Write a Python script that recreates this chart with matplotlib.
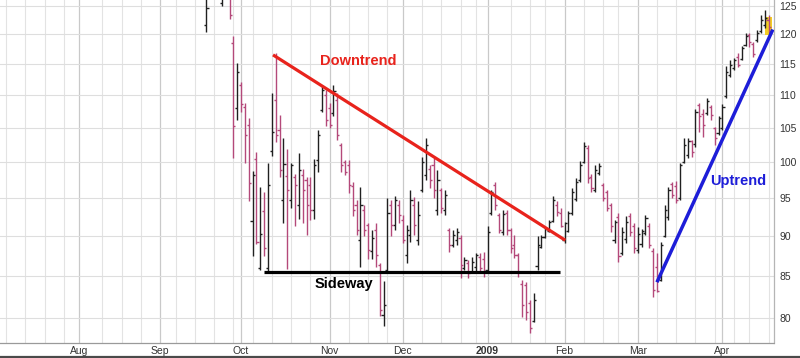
import matplotlib
matplotlib.use("Agg")
import matplotlib.pyplot as plt
from matplotlib.lines import Line2D
from matplotlib.patches import Rectangle
from matplotlib.ticker import NullLocator, NullFormatter
import numpy as np
import pandas as pd

plt.rcParams['font.family'] = ['Liberation Sans', 'DejaVu Sans']

# trading calendar (NYSE holidays in the window)
holidays = ['2008-07-04', '2008-09-01', '2008-11-27', '2008-12-25',
            '2009-01-01', '2009-01-19', '2009-02-16', '2009-04-10']
first_bar = '2008-09-18'
month_starts = ['2008-08', '2008-09', '2008-10', '2008-11', '2008-12',
                '2009-01', '2009-02', '2009-03', '2009-04']
month_labels = ['Aug', 'Sep', 'Oct', 'Nov', 'Dec', '2009', 'Feb', 'Mar', 'Apr']
price_ticks = [80, 85, 90, 95, 100, 105, 110, 115, 120, 125]

# daily OHLC, 18 Sep 2008 .. 20 Apr 2009
opens = [121.6, 127.5, 130.0, 128.0, 125.5, 128.5, 127.0, 118.5, 108.0,
         111.6, 108.2, 105.4, 91.9, 100.4, 85.9, 93.2, 85.9, 101.6, 109.2,
         104.7, 94.7, 98.0, 94.7, 97.8, 94.0, 98.2, 97.5, 96.8, 93.3, 100.3,
         107.7, 110.0,
         108.0, 107.2, 109.2, 102.4, 100.0, 99.5, 96.6, 94.0, 89.4, 93.4,
         91.4, 88.0, 90.7, 86.3, 80.4, 85.7, 94.0, 91.4, 94.0,
         92.0, 87.5, 90.1, 94.0, 89.4, 96.1, 98.1, 99.0, 99.5, 93.4, 96.1,
         93.4, 90.7, 88.8, 89.4, 89.7, 85.9, 86.5, 85.5, 86.0, 87.3, 87.0,
         85.7, 93.0, 96.7, 92.7, 90.4, 93.0, 90.7, 88.8, 87.5, 84.0, 83.9,
         81.7, 79.7, 86.2, 88.6, 89.8, 90.6, 91.9, 94.0, 93.0,
         89.4, 90.6, 92.9, 94.8, 97.4, 100.0, 102.0, 97.8, 96.1, 98.4, 96.8,
         95.8, 94.0, 89.4, 92.4, 87.8, 89.5, 92.6, 91.3,
         88.2, 88.9, 90.3, 91.3, 88.0, 86.0, 84.5, 90.0, 92.4, 96.9, 96.6,
         94.9, 100.0, 101.0, 103.0, 102.6, 108.4, 107.0, 107.2, 108.2, 104.9,
         104.2,
         105.0, 109.8, 113.2, 114.3, 116.2, 115.9, 118.2, 119.9, 118.4, 119.0,
         120.6, 121.6, 122.5]
highs = [130.0, 131.0, 132.0, 130.5, 129.5, 130.0, 128.5, 119.6, 115.1,
         112.1, 108.8, 106.5, 98.7, 101.4, 96.4, 95.8, 99.9, 110.3, 116.8,
         106.9, 103.4, 101.9, 99.8, 98.3, 101.2, 99.0, 97.9, 97.9, 100.4, 104.7,
         111.6, 110.8,
         108.8, 111.6, 110.3, 102.7, 100.3, 100.3, 97.1, 94.7, 96.4, 94.0,
         91.6, 90.7, 91.6, 86.5, 84.3, 94.9, 94.7, 95.2, 94.7,
         92.7, 91.4, 96.1, 95.1, 94.5, 100.7, 103.4, 99.5, 100.5, 98.8, 96.3,
         96.1, 91.0, 90.7, 91.0, 90.1, 87.3, 86.9, 87.3, 87.8, 87.8, 87.9,
         91.2, 96.1, 97.2, 93.0, 93.4, 93.4, 91.0, 90.1, 87.8, 84.5, 84.2,
         82.1, 82.9, 89.9, 90.1, 91.1, 92.0, 95.2, 94.5, 93.6,
         91.7, 93.2, 96.3, 97.7, 100.1, 102.9, 102.4, 98.3, 99.5, 99.8, 97.0,
         96.1, 94.3, 92.0, 93.0, 91.1, 92.5, 93.0, 91.6,
         91.1, 90.9, 92.7, 91.6, 88.4, 87.8, 89.2, 94.0, 96.5, 97.2, 97.3,
         99.8, 103.4, 103.5, 103.2, 107.9, 108.8, 107.9, 109.5, 108.4, 105.1,
         106.7,
         108.6, 114.6, 115.7, 116.0, 116.8, 118.0, 120.2, 120.2, 118.7, 120.7,
         123.3, 124.2, 123.3]
lows = [120.3, 126.8, 127.5, 126.4, 124.9, 126.3, 122.7, 100.5, 106.2,
        107.4, 99.8, 94.5, 87.4, 88.9, 85.7, 87.4, 85.5, 100.9, 102.9,
        97.9, 91.6, 85.8, 93.6, 91.2, 92.2, 91.6, 90.1, 92.0, 92.2, 98.6,
        107.4, 105.2,
        105.0, 106.7, 103.2, 98.6, 98.1, 95.7, 92.6, 90.1, 86.1, 89.9,
        87.1, 87.1, 86.1, 80.2, 79.1, 85.3, 89.9, 90.7, 91.6,
        89.0, 86.5, 89.2, 90.1, 88.8, 95.8, 97.4, 96.3, 95.0, 92.7, 93.0,
        92.7, 87.9, 88.6, 88.8, 84.7, 85.7, 84.7, 85.3, 85.5, 85.3, 84.8,
        85.3, 92.7, 93.4, 90.3, 90.1, 90.1, 87.8, 87.2, 84.8, 80.1, 79.8,
        78.3, 79.5, 85.7, 88.4, 89.7, 90.5, 91.8, 92.5, 91.1,
        89.1, 90.4, 92.7, 94.5, 97.2, 99.8, 97.0, 95.8, 95.8, 98.1, 94.5,
        93.2, 90.5, 89.1, 86.7, 87.5, 89.1, 89.9, 87.8,
        87.8, 88.6, 90.1, 88.4, 82.5, 83.0, 84.3, 89.8, 92.0, 95.0, 94.3,
        94.7, 99.8, 100.5, 100.7, 102.2, 104.4, 103.6, 106.9, 106.2, 102.4,
        103.9,
        104.7, 109.5, 112.8, 114.0, 114.5, 115.7, 118.0, 117.9, 116.2, 118.7,
        120.2, 121.0, 120.2]
closes = [124.6, 130.2, 128.4, 127.0, 128.5, 127.2, 123.3, 105.3, 113.7,
          108.6, 103.9, 97.0, 98.1, 89.2, 90.2, 88.4, 96.7, 104.4, 103.9,
          98.8, 99.7, 96.1, 99.5, 96.7, 98.9, 96.1, 94.0, 93.3, 99.5, 103.9,
          110.8, 106.2,
          105.4, 110.6, 103.9, 99.5, 98.6, 96.7, 93.3, 90.7, 94.0, 90.7,
          88.2, 89.7, 87.5, 80.9, 81.5, 93.0, 91.4, 94.7, 92.7,
          89.4, 90.7, 94.7, 91.4, 92.7, 100.0, 102.4, 97.4, 96.1, 97.4, 93.6,
          95.4, 88.8, 90.1, 90.4, 86.3, 86.9, 85.3, 86.7, 87.5, 85.9, 85.5,
          90.5, 95.8, 94.0, 90.7, 92.8, 90.7, 88.4, 87.5, 85.5, 81.5, 80.7,
          78.9, 82.1, 88.8, 89.8, 90.8, 91.7, 94.7, 93.1, 91.3,
          91.6, 92.9, 95.8, 97.2, 99.5, 102.3, 97.7, 96.3, 98.8, 99.4, 95.0,
          93.6, 91.3, 91.7, 87.4, 90.5, 91.7, 90.4, 88.4,
          90.2, 90.6, 92.3, 88.8, 83.3, 83.1, 88.8, 93.4, 96.1, 95.4, 94.7,
          99.5, 102.4, 103.0, 101.4, 107.4, 106.7, 105.4, 109.1, 106.9, 103.4,
          106.4,
          108.2, 113.7, 114.8, 115.7, 114.8, 117.7, 119.7, 118.7, 116.7, 120.2,
          122.5, 122.8, 121.2]

# ---- x positions: trading-day index, 0 = 1 Oct 2008
days = pd.bdate_range('2008-06-02', '2009-04-30')
days = days[~days.isin(pd.to_datetime(holidays))]
zero = days.get_loc(pd.Timestamp('2008-10-01'))
day_pos = np.arange(len(days)) - zero

start = days.get_loc(pd.Timestamp(first_bar))
x = day_pos[start:start + len(closes)]

month_pos = []
for m in month_starts:
    month_pos.append(day_pos[np.argmax(days.to_period('M') == pd.Period(m))])
monday = days - pd.to_timedelta(days.weekday, unit='D')
_, first_in_week = np.unique(monday, return_index=True)
week_pos = [p for p in day_pos[first_in_week]
            if min(abs(p - mp) for mp in month_pos) > 1]

opens = np.array(opens)
highs = np.array(highs)
lows = np.array(lows)
closes = np.array(closes)
prev = np.concatenate([[closes[0] - 1], closes[:-1]])
colors = np.where(closes >= prev, '#202020', '#b4497a')

fig = plt.figure(figsize=(8, 3.58), dpi=100)
ax = fig.add_axes([0, 15 / 358, 774 / 800, 343 / 358])

ax.set_yscale('log')
ax.set_ylim(77.2, 126.0)
ax.set_xlim(-62.6, 138.4)

# grid
for p in week_pos:
    ax.axvline(p, color='#e3e3e3', lw=0.8, zorder=0)
for p in month_pos:
    ax.axvline(p, color='#c9c9c9', lw=0.9, zorder=0)
for v in price_ticks:
    ax.axhline(v, color='#dedede', lw=0.8, zorder=0)

# last bar highlight
ax.add_patch(Rectangle((x[-1] - 0.85, 119.8), 1.7, 3.2,
                       facecolor='#f3cd25', edgecolor='none', zorder=2))

# OHLC bars
ax.vlines(x, lows, highs, colors=colors, lw=1.0, zorder=3)
ax.hlines(opens, x - 0.55, x, colors=colors, lw=1.0, zorder=3)
ax.hlines(closes, x, x + 0.55, colors=colors, lw=1.0, zorder=3)

# trend lines
ax.plot([8.3, 84.2], [116.5, 89.4], color='#e8231c', lw=2.3,
        solid_capstyle='butt', zorder=4)
ax.plot([6.0, 82.9], [85.5, 85.5], color='#000000', lw=2.3,
        solid_capstyle='butt', zorder=4)
ax.plot([108.0, 138.1], [84.2, 120.8], color='#1d1dd8', lw=2.5,
        solid_capstyle='butt', zorder=4)

ax.text(30.5, 115.5, 'Downtrend', color='#e8231c', fontsize=10.5,
        fontweight='bold', ha='center', va='center', zorder=5)
ax.text(26.6, 84.0, 'Sideway', color='#000000', fontsize=10.5,
        fontweight='bold', ha='center', va='center', zorder=5)
ax.text(129.2, 97.3, 'Uptrend', color='#1d1dd8', fontsize=10.5,
        fontweight='bold', ha='center', va='center', zorder=5)

# axes styling
ax.yaxis.tick_right()
ax.set_yticks(price_ticks)
ax.set_yticklabels([str(v) for v in price_ticks])
ax.yaxis.set_minor_locator(NullLocator())
ax.yaxis.set_minor_formatter(NullFormatter())
ax.set_xticks(month_pos)
ax.set_xticklabels(month_labels)
ax.get_xticklabels()[5].set_fontweight('bold')
ax.tick_params(axis='y', length=0, pad=4, labelsize=7.5, labelcolor='#333333')
ax.tick_params(axis='x', length=0, pad=2, labelsize=7.5, labelcolor='#333333')

ax.spines['top'].set_visible(False)
ax.spines['left'].set_visible(False)
ax.spines['right'].set_color('#b5b5b5')
ax.spines['right'].set_linewidth(0.9)
ax.spines['bottom'].set_color('#9a9a9a')
ax.spines['bottom'].set_linestyle((0, (1, 1)))
ax.spines['bottom'].set_linewidth(0.9)

fig.add_artist(Line2D([0, 1], [0.004, 0.004], transform=fig.transFigure,
                      color='#4a4a4a', lw=1.6))

fig.savefig('out.png', dpi=100)
